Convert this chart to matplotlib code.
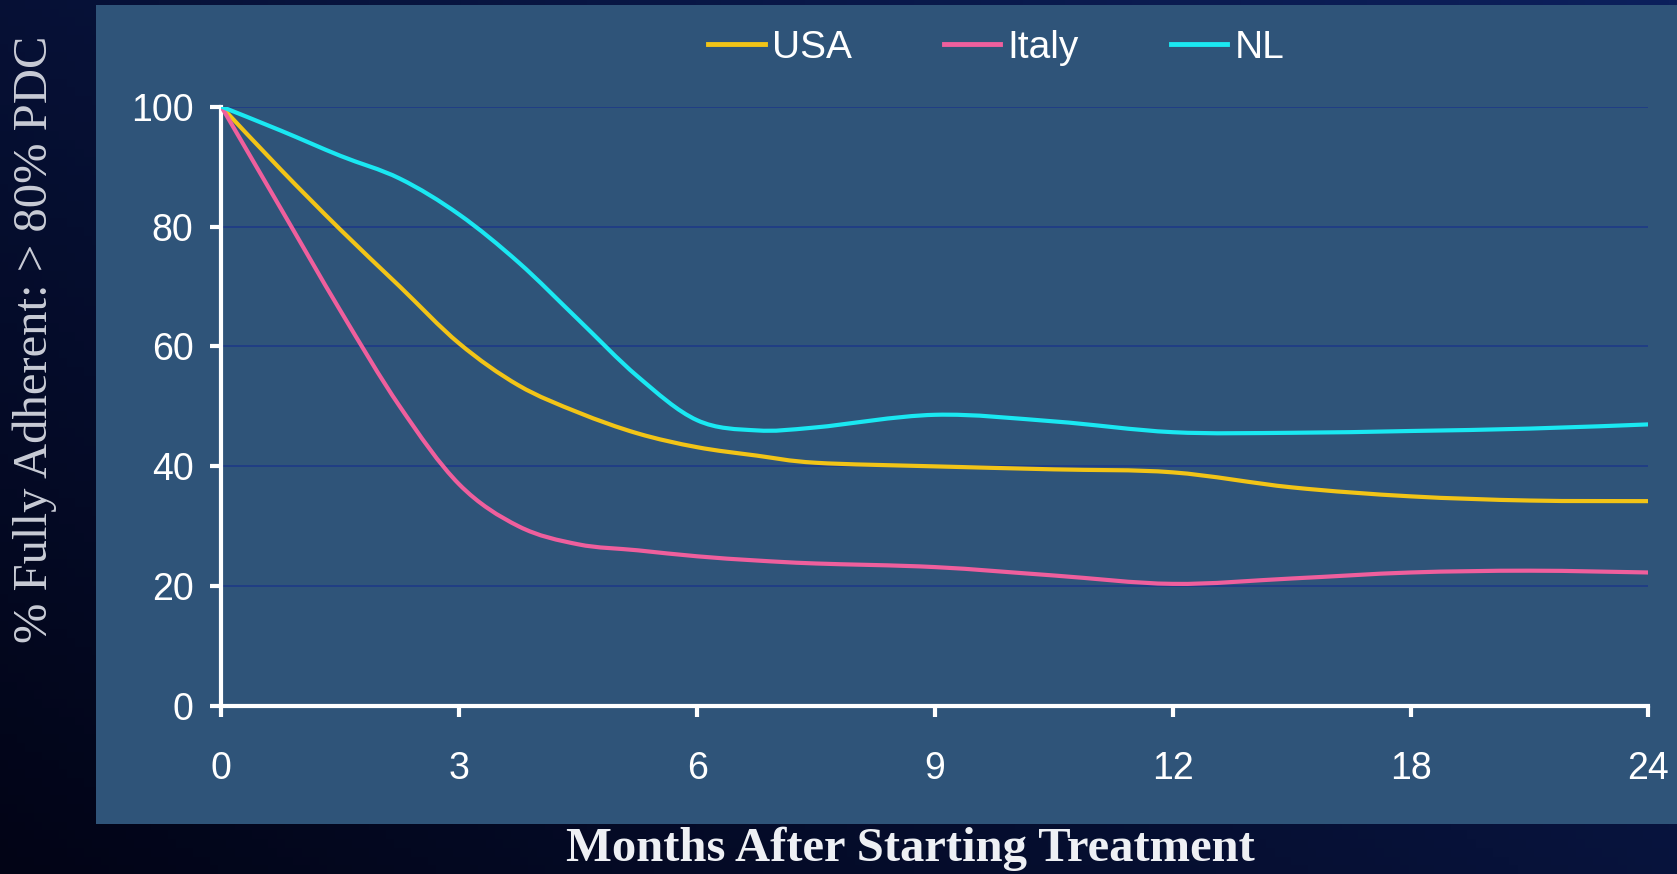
import numpy as np
import matplotlib
matplotlib.use("Agg")
import matplotlib.pyplot as plt
from matplotlib.patches import Rectangle, PathPatch
from matplotlib.path import Path
from matplotlib.lines import Line2D

# x positions along the (evenly spaced) month axis, and the series values
tick_labels = ["0", "3", "6", "9", "12", "18", "24"]
pos = [0, 0.25, 0.5, 0.75, 1, 1.25, 1.5, 1.75, 2, 2.25, 2.5, 3, 3.5, 4, 4.5, 5, 5.5, 6]

usa = [100, 89.5, 79.5, 70, 60.5, 53.5, 49, 45.5, 43.2, 41.8, 40.6, 40, 39.5, 39, 36.5, 35, 34.3, 34.2]
italy = [100, 83, 66, 50, 37, 30, 27, 26, 25, 24.3, 23.8, 23.2, 21.8, 20.4, 21.3, 22.3, 22.6, 22.3]
nl = [100, 96, 91.8, 88, 82, 74, 64.5, 55, 47.7, 46, 46.5, 48.6, 47.5, 45.7, 45.6, 45.9, 46.3, 47]

series = {"USA": (usa, "#f2c417"), "Italy": (italy, "#ef5f9d"), "NL": (nl, "#1ae8f2")}


def smooth_path(x, y):
    # Catmull-Rom through the points, written as cubic bezier segments
    p = np.column_stack([x, y]).astype(float)
    ext = np.vstack([p[0], p, p[-1]])
    verts = [p[0]]
    codes = [Path.MOVETO]
    for i in range(1, len(ext) - 2):
        p0, p1, p2, p3 = ext[i - 1], ext[i], ext[i + 1], ext[i + 2]
        verts += [p1 + (p2 - p0) / 6, p2 - (p3 - p1) / 6, p2]
        codes += [Path.CURVE4] * 3
    return Path(verts, codes)


fig = plt.figure(figsize=(16.77, 8.74), dpi=100)

# dark navy backdrop, a little lighter towards the top right
bg = fig.add_axes([0, 0, 1, 1], zorder=-10)
gx, gy = np.meshgrid(np.linspace(0, 1, 200), np.linspace(1, 0, 100))
shade = np.clip(0.55 * gx + 0.45 * gy, 0, 1)
c0 = np.array([2, 4, 22]) / 255
c1 = np.array([12, 32, 92]) / 255
img = c0 + (c1 - c0) * shade[..., None]
bg.imshow(img, aspect="auto", extent=[0, 1, 0, 1])
bg.axis("off")

# lighter slide panel behind the chart
fig.patches.append(Rectangle((0.0572, 0.057), 0.95, 0.937, transform=fig.transFigure,
                             facecolor="#2f5479", edgecolor="none", zorder=-5))

ax = fig.add_axes([0.132, 0.192, 0.851, 0.686])
ax.set_facecolor("none")

handles = []
for name, (vals, col) in series.items():
    ax.add_patch(PathPatch(smooth_path(pos, vals), fill=False, edgecolor=col, lw=3,
                           capstyle="round", zorder=3))
    handles.append(Line2D([], [], color=col, lw=3.5, label=name))

ax.set_xlim(0, 6)
ax.set_ylim(0, 100)
ax.set_xticks(range(len(tick_labels)))
ax.set_xticklabels(tick_labels)
ax.set_yticks([0, 20, 40, 60, 80, 100])

ax.yaxis.grid(True, color="#1f3c86", lw=1.3)
ax.set_axisbelow(True)

for s in ["top", "right"]:
    ax.spines[s].set_visible(False)
for s in ["left", "bottom"]:
    ax.spines[s].set_color("white")
    ax.spines[s].set_linewidth(3)

ax.tick_params(colors="white", labelsize=27, width=3, length=8)
ax.tick_params(axis="x", pad=24)
ax.tick_params(axis="y", pad=12)
for t in ax.get_xticklabels() + ax.get_yticklabels():
    t.set_fontfamily("Liberation Sans")

leg = ax.legend(handles=handles, loc="lower center", bbox_to_anchor=(0.543, 1.01), ncol=3,
                frameon=False, handlelength=1.45, handletextpad=0.2, columnspacing=2.35,
                prop={"family": "Liberation Sans", "size": 28})
for t in leg.get_texts():
    t.set_color("white")

fig.text(0.021, 0.612, "% Fully Adherent: > 80% PDC", rotation=90, ha="center", va="center",
         family="Liberation Serif", fontsize=35, color="#c9ccd6")
fig.text(0.543, 0.029, "Months After Starting Treatment", ha="center", va="center",
         family="Liberation Serif", fontweight="bold", fontsize=35, color="#eef0f4")

fig.savefig("out.png", dpi=100)
